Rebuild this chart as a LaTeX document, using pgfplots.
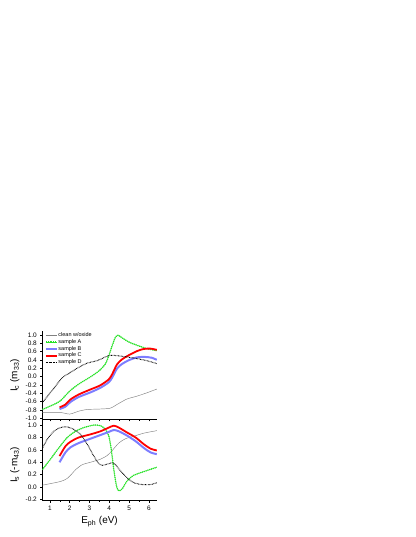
\documentclass[border=0pt]{standalone}
\usepackage{fontspec}
\setmainfont{Liberation Sans}
\usepackage{pgfplots}
\pgfplotsset{compat=1.18}

\definecolor{cgray}{RGB}{128,128,128}
\definecolor{cgreen}{RGB}{40,225,40}
\definecolor{cblue}{RGB}{125,125,255}
\definecolor{cred}{RGB}{255,0,0}

\pgfplotsset{
  panel/.style={
    scale only axis, width=114.5bp,
    xmin=0.62, xmax=6.4,
    axis x line*=bottom, axis y line*=left,
    tick align=outside,
    major tick length=2bp, minor tick length=1.2bp,
    xtick={1,2,3,4,5,6}, minor x tick num=1,
    tick style={black, line width=0.4pt},
    axis line style={line width=0.5pt},
    /pgf/number format/assume math mode=true,
    ticklabel style={font=\fontsize{6.5}{7}\selectfont},
    yticklabel style={/pgf/number format/.cd, fixed, fixed zerofill, precision=1},
    label style={font=\fontsize{10}{11}\selectfont},
    every axis plot/.append style={smooth, tension=0.45},
  },
  sA/.style={cgreen, line width=0.4pt, postaction={draw, line width=1.3pt, dash pattern=on 1pt off 0.9pt}},
  sB/.style={cblue, line width=2pt},
  sC/.style={cred, line width=1.8pt},
  sD/.style={black, line width=1pt, dash pattern=on 0.6pt off 0.8pt},
  s0/.style={cgray, line width=0.45pt},
}

\begin{document}
\begin{tikzpicture}[x=1bp,y=1bp]
\path[use as bounding box] (0,0) rectangle (415,537);

% upper panel
\begin{axis}[panel, at={(42.3bp,117.5bp)}, anchor=south west,
  height=88bp, ymin=-1.03, ymax=1.08,
  ytick={-1,-0.8,-0.6,-0.4,-0.2,0,0.2,0.4,0.6,0.8,1},
  xticklabels={},
  ylabel={I\textsubscript{c} (m\textsubscript{33})},
  ylabel style={at={(axis description cs:-0.24,0.5)}, anchor=center},
  legend style={draw=none, fill=none, at={(0.02,1.0)}, anchor=north west,
    font=\fontsize{5.5}{6}\selectfont, inner sep=0pt, nodes={inner sep=0.7pt}},
  legend cell align=left,
  legend image code/.code={\draw[#1] (0bp,0bp) -- (11bp,0bp);},
]
\addplot[s0] coordinates {(0.62,-0.86) (1.54,-0.86) (2.0,-0.9) (2.46,-0.83) (2.88,-0.79)
  (3.47,-0.78) (4.05,-0.76) (4.39,-0.67) (4.89,-0.54) (5.4,-0.47) (5.9,-0.39) (6.4,-0.30)};
\addlegendentry{clean w/oxide}
\addplot[sA] coordinates {(0.62,-0.79) (1.2,-0.67) (1.54,-0.58) (2.0,-0.35) (2.46,-0.18)
  (3.01,-0.02) (3.47,0.13) (3.8,0.30) (3.97,0.49) (4.14,0.73) (4.3,0.93) (4.44,0.99)
  (4.64,0.93) (4.98,0.83) (5.4,0.75) (5.9,0.67) (6.4,0.62)};
\addlegendentry{sample A}
\addplot[sB] coordinates {(1.49,-0.78) (1.79,-0.72) (2.04,-0.61) (2.46,-0.49) (3.05,-0.38)
  (3.55,-0.27) (3.97,-0.14) (4.14,-0.03) (4.39,0.19) (4.64,0.30) (4.98,0.39) (5.4,0.46)
  (5.8,0.47) (6.15,0.45) (6.4,0.40)};
\addlegendentry{sample B}
\addplot[sC] coordinates {(1.49,-0.74) (1.79,-0.67) (2.04,-0.55) (2.46,-0.43) (3.05,-0.31)
  (3.55,-0.21) (3.97,-0.07) (4.14,0.05) (4.39,0.29) (4.64,0.41) (4.98,0.51) (5.4,0.61)
  (5.73,0.66) (6.07,0.67) (6.4,0.64)};
\addlegendentry{sample C}
\addplot[sD] coordinates {(0.62,-0.63) (0.95,-0.43) (1.29,-0.23) (1.62,-0.03) (2.01,0.09)
  (2.46,0.22) (2.88,0.32) (3.38,0.38) (3.72,0.45) (4.02,0.51) (4.39,0.50) (4.89,0.47)
  (5.4,0.43) (5.9,0.38) (6.4,0.31)};
\addlegendentry{sample D}
\end{axis}

% lower panel
\begin{axis}[panel, at={(42.3bp,36.3bp)}, anchor=south west,
  height=81.2bp, ymin=-0.22, ymax=1.09,
  ytick={-0.2,0,0.2,0.4,0.6,0.8,1},
  ylabel={I\textsubscript{s} (-m\textsubscript{43})},
  ylabel style={at={(axis description cs:-0.24,0.44)}, anchor=center},
  xlabel={E\textsubscript{ph} (eV)},
  xlabel style={at={(axis description cs:0.5,-0.26)}, anchor=center},
]
\addplot[s0] coordinates {(0.62,0.03) (1.54,0.09) (1.88,0.14) (2.13,0.22) (2.3,0.28)
  (2.63,0.36) (3.05,0.40) (3.56,0.45) (3.9,0.51) (4.15,0.59) (4.48,0.71) (4.82,0.78)
  (5.24,0.82) (5.75,0.87) (6.4,0.91)};
\addplot[sA] coordinates {(0.62,0.28) (1.03,0.45) (1.45,0.63) (1.88,0.80) (2.3,0.90)
  (2.72,0.96) (3.22,1.0) (3.56,0.99) (3.81,0.93) (3.98,0.82) (4.1,0.61) (4.23,0.28)
  (4.37,0.01) (4.48,-0.06) (4.65,-0.03) (4.9,0.10) (5.24,0.19) (5.75,0.25) (6.4,0.32)};
\addplot[sB] coordinates {(1.49,0.40) (1.79,0.56) (2.04,0.64) (2.46,0.71) (3.05,0.78)
  (3.56,0.84) (3.98,0.89) (4.23,0.92) (4.48,0.90) (4.9,0.83) (5.33,0.74) (5.75,0.63)
  (6.08,0.56) (6.4,0.53)};
\addplot[sC] coordinates {(1.49,0.50) (1.79,0.66) (2.04,0.73) (2.46,0.80) (3.05,0.85)
  (3.56,0.90) (3.98,0.96) (4.23,0.99) (4.48,0.96) (4.9,0.88) (5.33,0.80) (5.75,0.69)
  (6.08,0.62) (6.4,0.59)};
\addplot[sD] coordinates {(0.62,0.62) (0.87,0.77) (1.2,0.90) (1.54,0.96) (1.88,0.97)
  (2.21,0.93) (2.55,0.85) (2.89,0.69) (3.22,0.50) (3.47,0.38) (3.64,0.35) (3.9,0.37)
  (4.15,0.39) (4.32,0.36) (4.57,0.26) (4.9,0.15) (5.24,0.07) (5.66,0.04) (6.08,0.04)
  (6.4,0.07)};
\end{axis}
\end{tikzpicture}
\end{document}
